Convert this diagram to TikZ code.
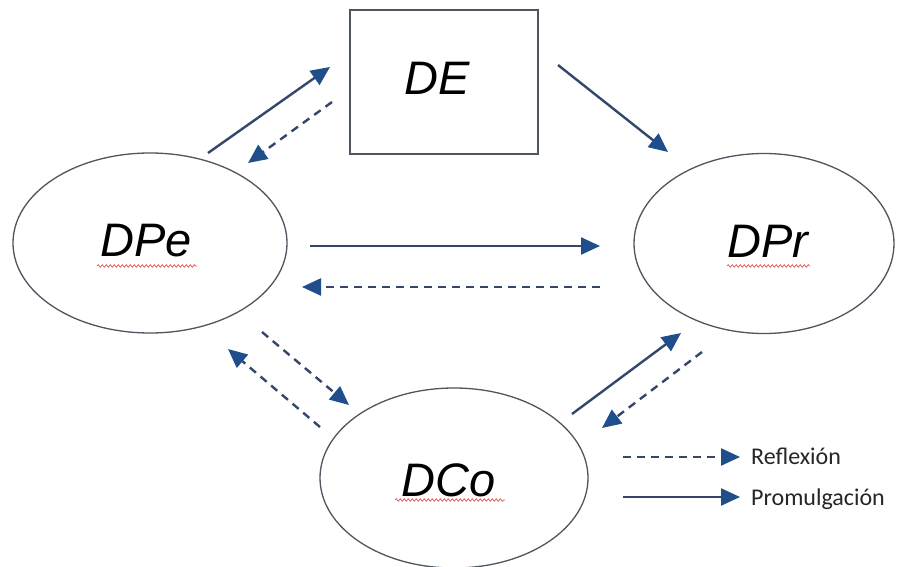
\documentclass[tikz,border=0pt]{standalone}
\usepackage{fontspec}
\setmainfont{Liberation Sans}
\newfontfamily\legendfont{Carlito}
\usetikzlibrary{arrows.meta,shapes.geometric,decorations.pathmorphing}
\definecolor{linec}{HTML}{34476A}
\definecolor{headc}{HTML}{1F4E8A}
\definecolor{shapec}{HTML}{4E5660}
\definecolor{squig}{HTML}{E05A5A}
\tikzset{
  ovalbox/.style={draw=shapec, line width=1.3pt, ellipse, inner sep=0pt},
  rectbox/.style={draw=shapec, line width=1.8pt, rectangle, inner sep=0pt, minimum width=188pt, minimum height=144pt},
  bigtext/.style={font=\fontsize{47}{50}\selectfont\itshape, inner sep=0pt},
  legtext/.style={font=\legendfont\fontsize{24}{27}\selectfont, text=black!85, inner sep=0pt, anchor=west},
  promul/.style={draw=linec, line width=2.4pt, -{Triangle[length=19pt,width=17pt,color=headc]}},
  reflex/.style={draw=linec, line width=2.4pt, dash pattern=on 8pt off 6pt, -{Triangle[length=19pt,width=17pt,color=headc]}},
  spell/.style={draw=squig, line width=0.7pt, decorate, decoration={snake, amplitude=1.3pt, segment length=4pt}}
}
\begin{document}
\begin{tikzpicture}[x=1pt,y=-1pt]
\useasboundingbox (0,0) rectangle (898,567);
\fill[white] (0,0) rectangle (898,567);
% shapes
\node[rectbox] (DE) at (444,82) {};
\node[ovalbox, minimum width=274pt, minimum height=180pt] (DPe) at (150,243) {};
\node[ovalbox, minimum width=260pt, minimum height=180pt] (DPr) at (764,243.5) {};
\node[ovalbox, minimum width=268pt, minimum height=180pt] (DCo) at (454,478) {};
% labels
\node[bigtext] (tDE) at (437,78) {DE};
\node[bigtext] (tDPe) at (146,241) {DPe};
\node[bigtext] (tDPr) at (768,241) {DPr};
\node[bigtext] (tDCo) at (449,480) {DCo};
% spell-check underlines
\draw[spell] (97,266) -- (197,266);
\draw[spell] (727,266) -- (810,266);
\draw[spell] (395,500) -- (505,500);
% arrow end points
\coordinate (a1s) at (208,153); \coordinate (a1e) at (330,67);
\coordinate (a2s) at (332,102); \coordinate (a2e) at (248,163);
\coordinate (a3s) at (558,65);  \coordinate (a3e) at (668,152);
\coordinate (a4s) at (310,246); \coordinate (a4e) at (600,246);
\coordinate (a5s) at (600,287); \coordinate (a5e) at (302,287);
\coordinate (a6s) at (262,332); \coordinate (a6e) at (349,405);
\coordinate (a7s) at (320,427); \coordinate (a7e) at (228,349);
\coordinate (a8s) at (572,414); \coordinate (a8e) at (681,333);
\coordinate (a9s) at (702,352); \coordinate (a9e) at (602,428);
% connectors
\draw[promul] (a1s) -- (a1e);
\draw[reflex] (a2s) -- (a2e);
\draw[promul] (a3s) -- (a3e);
\draw[promul] (a4s) -- (a4e);
\draw[reflex] (a5s) -- (a5e);
\draw[reflex] (a6s) -- (a6e);
\draw[reflex] (a7s) -- (a7e);
\draw[promul] (a8s) -- (a8e);
\draw[reflex] (a9s) -- (a9e);
% legend
\node[legtext] (lR) at (751,456) {Reflexión};
\node[legtext] (lP) at (751,499) {Promulgación};
\coordinate (lRs) at (623,457); \coordinate (lRe) at (740,457);
\coordinate (lPs) at (623,497); \coordinate (lPe) at (740,497);
\draw[reflex] (lRs) -- (lRe);
\draw[promul] (lPs) -- (lPe);
\end{tikzpicture}
\end{document}
